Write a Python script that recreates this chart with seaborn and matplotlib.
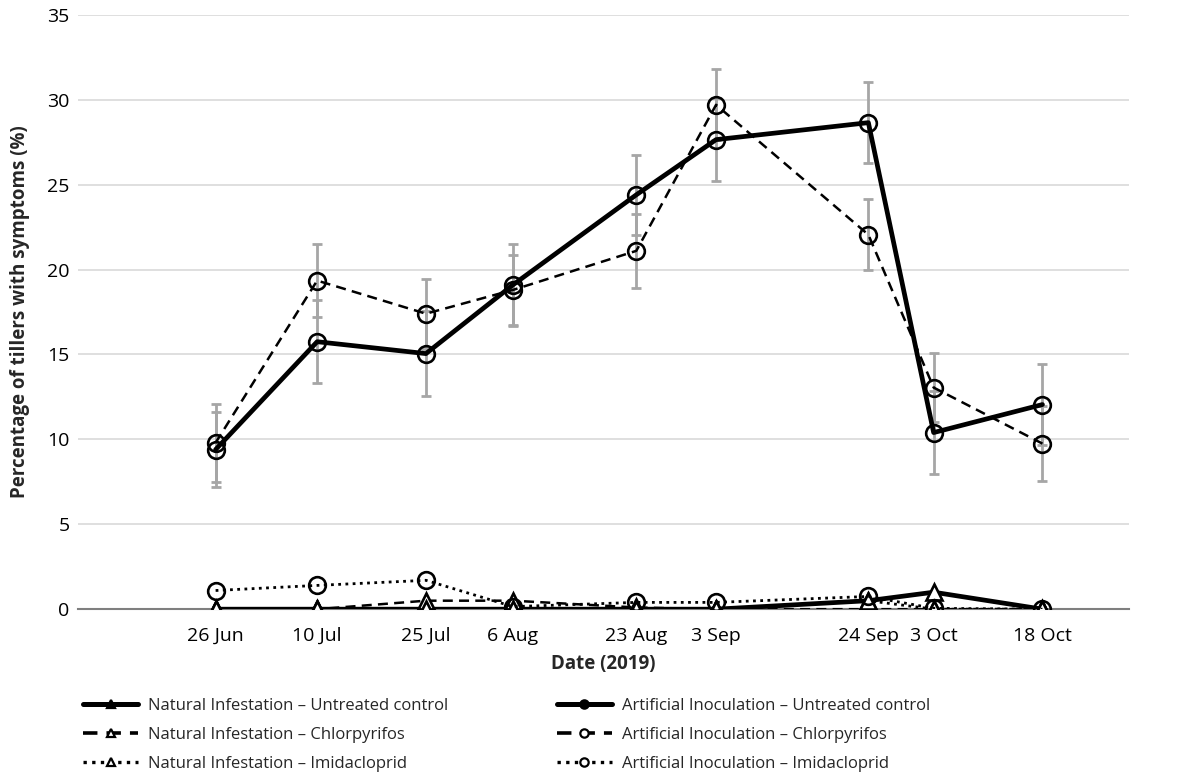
import pandas as pd
import matplotlib.pyplot as plt
from matplotlib.lines import Line2D
import seaborn as sns

# data
dates = pd.to_datetime(["2019-06-26", "2019-07-10", "2019-07-25", "2019-08-06", "2019-08-23",
                        "2019-09-03", "2019-09-24", "2019-10-03", "2019-10-18"])
date_labels = ["26 Jun", "10 Jul", "25 Jul", "6 Aug", "23 Aug", "3 Sep", "24 Sep", "3 Oct", "18 Oct"]

ni_control = [0, 0, 0, 0, 0, 0, 0.5, 1.0, 0]
ni_chlorpyrifos = [0, 0, 0.5, 0.5, 0.1, 0, 0, 0, 0]
ni_imidacloprid = [0, 0, 0, 0, 0, 0, 0.5, 0, 0]
ai_control = [9.4, 15.75, 15.05, 19.1, 24.4, 27.65, 28.65, 10.4, 12.05]
ai_chlorpyrifos = [9.8, 19.35, 17.4, 18.8, 21.1, 29.7, 22.05, 13.05, 9.75]
ai_imidacloprid = [1.1, 1.4, 1.7, 0.15, 0.4, 0.4, 0.75, 0.05, 0]
ai_control_err = [2.2, 2.45, 2.5, 2.4, 2.35, 2.45, 2.4, 2.45, 2.4]
ai_chlorpyrifos_err = [2.3, 2.15, 2.05, 2.05, 2.2, 2.1, 2.1, 2.05, 2.2]

sns.set_theme(style="white")
plt.rcParams['font.family'] = ['Open Sans', 'DejaVu Sans']

fig = plt.figure(figsize=(11.79, 7.80), dpi=100)
ax = fig.add_axes([0.066, 0.219, 0.892, 0.762])

grey_err = "#a6a6a6"
ax.errorbar(dates, ai_control, yerr=ai_control_err, fmt="none", ecolor=grey_err,
            elinewidth=2, capsize=3.5, capthick=2, zorder=2)
ax.errorbar(dates, ai_chlorpyrifos, yerr=ai_chlorpyrifos_err, fmt="none", ecolor=grey_err,
            elinewidth=2, capsize=3.5, capthick=2, zorder=2)

series = [
    (ni_control, "-", 3.4, "^", "white"),
    (ni_chlorpyrifos, (0, (4, 2.5)), 1.8, "^", "white"),
    (ni_imidacloprid, (0, (1, 1.6)), 2.0, "^", "white"),
    (ai_control, "-", 3.4, "o", "none"),
    (ai_chlorpyrifos, (0, (4, 2.5)), 1.8, "o", "none"),
    (ai_imidacloprid, (0, (1, 1.6)), 2.0, "o", "none"),
]
for vals, ls, lw, mk, fc in series:
    sns.lineplot(x=dates, y=vals, ax=ax, color="black", linestyle=ls, linewidth=lw,
                 marker=mk, markersize=12, markerfacecolor=fc, markeredgecolor="black",
                 markeredgewidth=1.9, zorder=3)

ax.set_xlim(pd.Timestamp("2019-06-07"), pd.Timestamp("2019-10-30"))
ax.set_ylim(0, 35)
ax.set_yticks(range(0, 36, 5))
ax.set_xticks(dates)
ax.set_xticklabels(date_labels)
ax.tick_params(axis="both", labelsize=14, colors="black", length=0)
ax.tick_params(axis="y", pad=6)
ax.tick_params(axis="x", pad=13)
ax.yaxis.grid(True, color="#d9d9d9", linewidth=1.2)
ax.xaxis.grid(False)
for side in ["top", "right", "left"]:
    ax.spines[side].set_visible(False)
ax.spines["bottom"].set_color("#7f7f7f")
ax.spines["bottom"].set_linewidth(1.5)
ax.set_axisbelow(True)

ax.set_xlabel("Date (2019)", fontsize=13.5, fontweight="bold", labelpad=6)
ax.set_ylabel("Percentage of tillers with symptoms (%)", fontsize=13.5, fontweight="bold", labelpad=12)

labels = ["Natural Infestation \u2013 Untreated control", "Natural Infestation \u2013 Chlorpyrifos",
          "Natural Infestation \u2013 Imidacloprid", "Artificial Inoculation \u2013 Untreated control",
          "Artificial Inoculation \u2013 Chlorpyrifos", "Artificial Inoculation \u2013 Imidacloprid"]
legend_lw = [3.6, 2.6, 2.4, 3.6, 2.6, 2.4]
handles = [Line2D([], [], color="black", linestyle=ls, linewidth=llw, marker=mk, markersize=6,
                  markerfacecolor="black" if ls == "-" else "white", markeredgecolor="black",
                  markeredgewidth=1.6)
           for (_, ls, _, mk, _), llw in zip(series, legend_lw)]
fig.legend(handles, labels, ncol=2, loc="upper left", bbox_to_anchor=(0.058, 0.125),
           frameon=False, fontsize=12, handlelength=3.3, handletextpad=0.6,
           columnspacing=6.5, labelspacing=0.8)

fig.savefig("out.png", dpi=100)
